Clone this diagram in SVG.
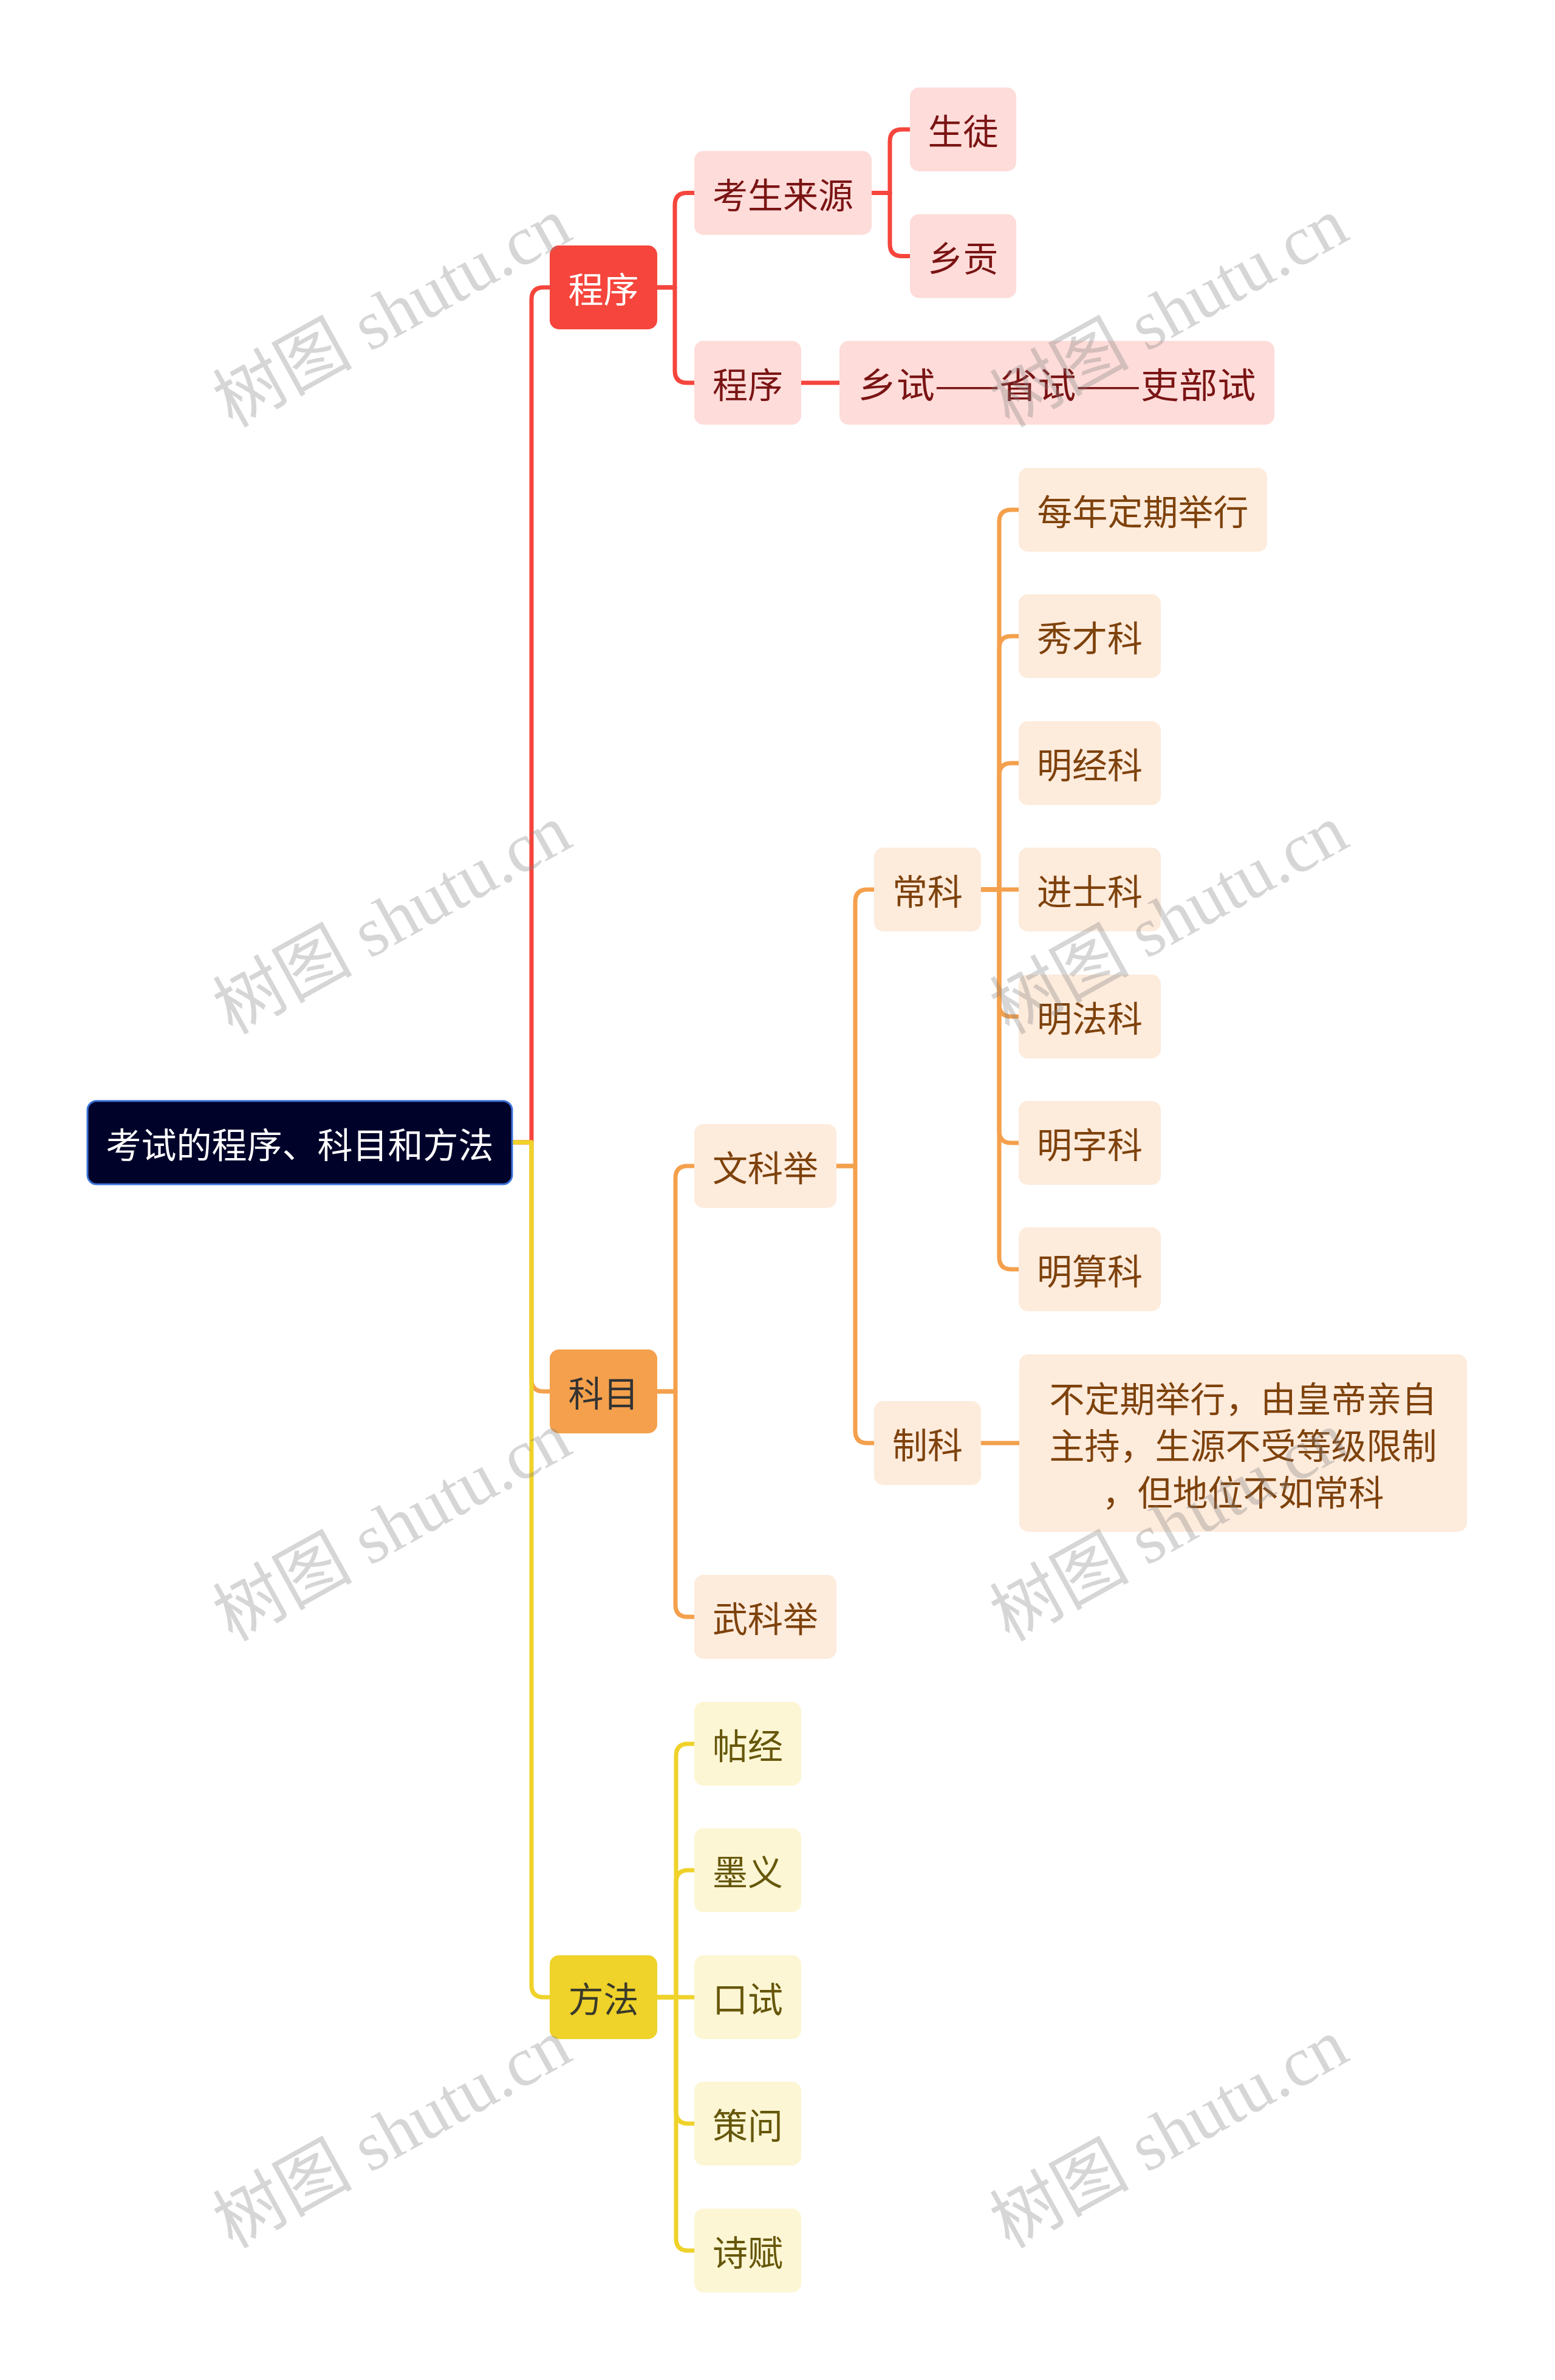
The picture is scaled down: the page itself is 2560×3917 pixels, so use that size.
<svg xmlns="http://www.w3.org/2000/svg" width="2560" height="3917" viewBox="0 0 2560 3917">
<style>
text{font-family:"Noto Sans CJK SC","Noto Sans",sans-serif;font-size:58px;text-anchor:middle;dominant-baseline:central}
.c{fill:none;stroke-width:7;stroke-linejoin:round;stroke-linecap:butt}
.cr{stroke:#F5453C}.co{stroke:#F4A04C}.cy{stroke:#EFD22A}
.root rect{fill:#00022A;stroke:#3A72D8;stroke-width:3}
.root text{fill:#FFFFFF}
.l1r rect{fill:#F5453C}.l1r text{fill:#FFFFFF}
.l1o rect{fill:#F4A04C}.l1o text{fill:#333333}
.l1y rect{fill:#EFD22A}.l1y text{fill:#3A3A2A}
.r rect{fill:#FDDCD9}.r text{fill:#7A1414}
.o rect{fill:#FDEBDC}.o text{fill:#7E420C}
.y rect{fill:#FCF6D4}.y text{fill:#66570B}
.wm{font-family:"Liberation Serif","Noto Sans CJK SC",serif;font-size:115px;fill:#808080;fill-opacity:0.32;dominant-baseline:alphabetic}
</style>
<rect width="2560" height="3917" fill="#FFFFFF"/>
<g id="connectors">
<path class="c cr" d="M843,1880 H875 V493 Q875,473 895,473 H905"/>
<path class="c cr" d="M1082,473 H1111 V337.5 Q1111,317.5 1131,317.5 H1143"/>
<path class="c cr" d="M1082,473 H1111 V610 Q1111,630 1131,630 H1143"/>
<path class="c cr" d="M1435,317.5 H1465 V233 Q1465,213 1485,213 H1498"/>
<path class="c cr" d="M1435,317.5 H1465 V401.5 Q1465,421.5 1485,421.5 H1498"/>
<path class="c cr" d="M1319,630 H1382"/>
<path class="c co" d="M843,1880 H875 V2270 Q875,2290 895,2290 H905"/>
<path class="c co" d="M1082,2290 H1112 V1939 Q1112,1919 1132,1919 H1143"/>
<path class="c co" d="M1082,2290 H1112 V2641 Q1112,2661 1132,2661 H1143"/>
<path class="c co" d="M1377,1919 H1408 V1484 Q1408,1464 1428,1464 H1439"/>
<path class="c co" d="M1377,1919 H1408 V2355 Q1408,2375 1428,2375 H1439"/>
<path class="c co" d="M1615,1464 H1645 V859 Q1645,839 1665,839 H1677"/>
<path class="c co" d="M1615,1464 H1645 V1067 Q1645,1047 1665,1047 H1677"/>
<path class="c co" d="M1615,1464 H1645 V1276 Q1645,1256 1665,1256 H1677"/>
<path class="c co" d="M1615,1464 H1677"/>
<path class="c co" d="M1615,1464 H1645 V1653 Q1645,1673 1665,1673 H1677"/>
<path class="c co" d="M1615,1464 H1645 V1861 Q1645,1881 1665,1881 H1677"/>
<path class="c co" d="M1615,1464 H1645 V2069 Q1645,2089 1665,2089 H1677"/>
<path class="c co" d="M1615,2375 H1678"/>
<path class="c cy" d="M843,1880 H875 V3267 Q875,3287 895,3287 H905"/>
<path class="c cy" d="M1082,3287 H1113 V2890 Q1113,2870 1133,2870 H1143"/>
<path class="c cy" d="M1082,3287 H1113 V3098 Q1113,3078 1133,3078 H1143"/>
<path class="c cy" d="M1082,3287 H1143"/>
<path class="c cy" d="M1082,3287 H1113 V3475 Q1113,3495 1133,3495 H1143"/>
<path class="c cy" d="M1082,3287 H1113 V3684 Q1113,3704 1133,3704 H1143"/>
</g>
<g id="root" class="root"><rect x="144" y="1812" width="699" height="137" rx="15"/><text x="493.5" y="1880.5">考试的程序、科目和方法</text></g>
<g id="n-chengxu" class="l1r"><rect x="905" y="404" width="177" height="138" rx="15"/><text x="993.5" y="473">程序</text></g>
<g id="n-kemu" class="l1o"><rect x="905" y="2221" width="177" height="138" rx="15"/><text x="993.5" y="2290">科目</text></g>
<g id="n-fangfa" class="l1y"><rect x="905" y="3218" width="177" height="138" rx="15"/><text x="993.5" y="3287">方法</text></g>
<g id="n-kaosheng" class="r"><rect x="1143" y="248.5" width="292" height="138" rx="15"/><text x="1289" y="317.5">考生来源</text></g>
<g id="n-chengxu2" class="r"><rect x="1143" y="561" width="176" height="138" rx="15"/><text x="1231" y="630">程序</text></g>
<g id="n-shengtu" class="r"><rect x="1498" y="144" width="175" height="138" rx="15"/><text x="1585.5" y="213">生徒</text></g>
<g id="n-xianggong" class="r"><rect x="1498" y="352.5" width="175" height="138" rx="15"/><text x="1585.5" y="421.5">乡贡</text></g>
<g id="n-xiangshi" class="r"><rect x="1382" y="561" width="716" height="138" rx="15"/><text x="1740" y="630" textLength="655" lengthAdjust="spacingAndGlyphs">乡试——省试——吏部试</text></g>
<g id="n-wenkeju" class="o"><rect x="1143" y="1850" width="234" height="138" rx="15"/><text x="1260" y="1919">文科举</text></g>
<g id="n-wukeju" class="o"><rect x="1143" y="2592" width="234" height="138" rx="15"/><text x="1260" y="2661">武科举</text></g>
<g id="n-changke" class="o"><rect x="1439" y="1395" width="176" height="138" rx="15"/><text x="1527" y="1464">常科</text></g>
<g id="n-zhike" class="o"><rect x="1439" y="2306" width="176" height="138" rx="15"/><text x="1527" y="2375">制科</text></g>
<g id="n-meinian" class="o"><rect x="1677" y="770" width="409" height="138" rx="15"/><text x="1881.5" y="839">每年定期举行</text></g>
<g id="n-xiucai" class="o"><rect x="1677" y="978" width="234" height="138" rx="15"/><text x="1794" y="1047">秀才科</text></g>
<g id="n-mingjing" class="o"><rect x="1677" y="1187" width="234" height="138" rx="15"/><text x="1794" y="1256">明经科</text></g>
<g id="n-jinshi" class="o"><rect x="1677" y="1395" width="234" height="138" rx="15"/><text x="1794" y="1464">进士科</text></g>
<g id="n-mingfa" class="o"><rect x="1677" y="1604" width="234" height="138" rx="15"/><text x="1794" y="1673">明法科</text></g>
<g id="n-mingzi" class="o"><rect x="1677" y="1812" width="234" height="138" rx="15"/><text x="1794" y="1881">明字科</text></g>
<g id="n-mingsuan" class="o"><rect x="1677" y="2020" width="234" height="138" rx="15"/><text x="1794" y="2089">明算科</text></g>
<g id="n-zhike-desc" class="o"><rect x="1678" y="2229" width="737" height="292" rx="15"/><text x="2046.5" y="2299">不定期举行，由皇帝亲自</text><text x="2046.5" y="2376">主持，生源不受等级限制</text><text x="2046.5" y="2453">，但地位不如常科</text></g>
<g id="n-tiejing" class="y"><rect x="1143" y="2801" width="176" height="138" rx="15"/><text x="1231" y="2870">帖经</text></g>
<g id="n-moyi" class="y"><rect x="1143" y="3009" width="176" height="138" rx="15"/><text x="1231" y="3078">墨义</text></g>
<g id="n-koushi" class="y"><rect x="1143" y="3218" width="176" height="138" rx="15"/><text x="1231" y="3287">口试</text></g>
<g id="n-cewen" class="y"><rect x="1143" y="3426" width="176" height="138" rx="15"/><text x="1231" y="3495">策问</text></g>
<g id="n-shifu" class="y"><rect x="1143" y="3635" width="176" height="138" rx="15"/><text x="1231" y="3704">诗赋</text></g>
<g id="watermarks">
<text class="wm" transform="translate(646,515) rotate(-29)" x="0" y="38">树图 shutu.cn</text>
<text class="wm" transform="translate(1925,515) rotate(-29)" x="0" y="38">树图 shutu.cn</text>
<text class="wm" transform="translate(646,1514) rotate(-29)" x="0" y="38">树图 shutu.cn</text>
<text class="wm" transform="translate(1925,1514) rotate(-29)" x="0" y="38">树图 shutu.cn</text>
<text class="wm" transform="translate(646,2513) rotate(-29)" x="0" y="38">树图 shutu.cn</text>
<text class="wm" transform="translate(1925,2513) rotate(-29)" x="0" y="38">树图 shutu.cn</text>
<text class="wm" transform="translate(646,3512) rotate(-29)" x="0" y="38">树图 shutu.cn</text>
<text class="wm" transform="translate(1925,3512) rotate(-29)" x="0" y="38">树图 shutu.cn</text>
</g>
</svg>
